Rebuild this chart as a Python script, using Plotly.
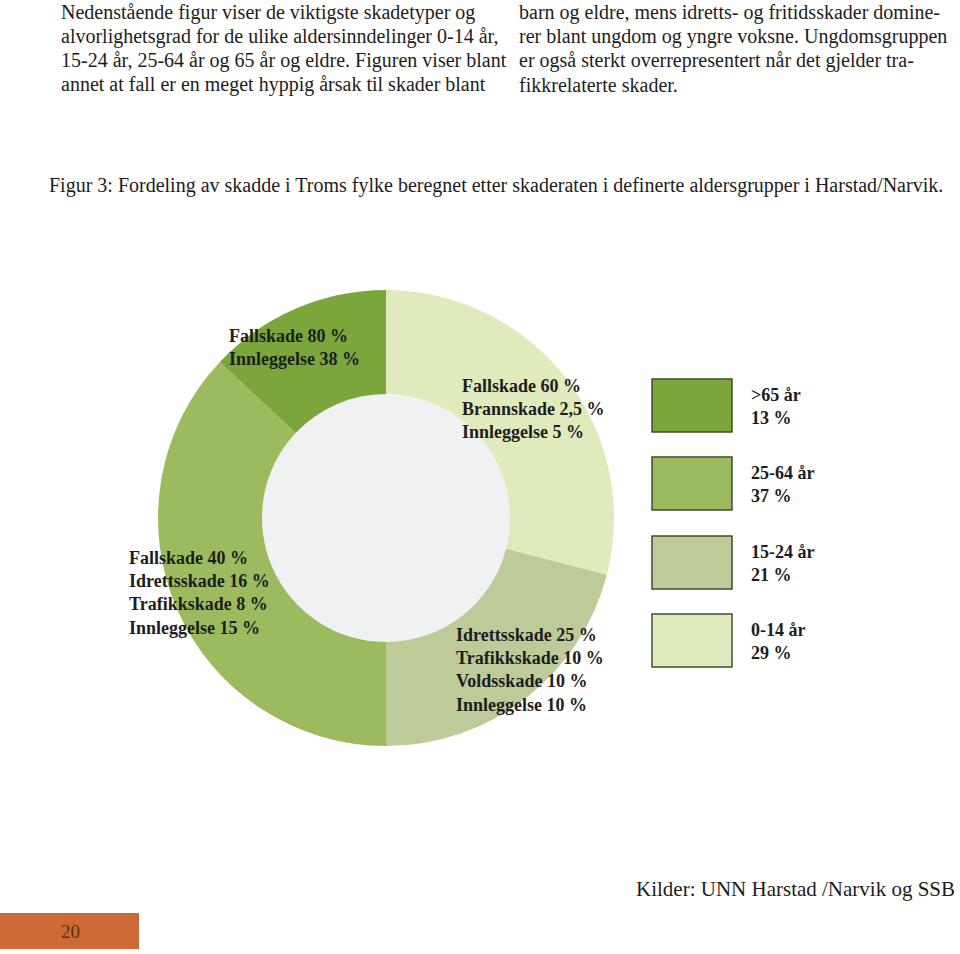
import plotly.graph_objects as go

W, H = 960, 954

# Data
age_groups = ["0-14 år", "15-24 år", "25-64 år", ">65 år"]
shares = [29, 21, 37, 13]
slice_colors = ["#e0ebbd", "#bccb98", "#9bbb5e", "#7ba63c"]

injury_notes = [
    ["Fallskade 60 %", "Brannskade 2,5 %", "Innleggelse 5 %"],
    ["Idrettsskade 25 %", "Trafikkskade 10 %", "Voldsskade 10 %", "Innleggelse 10 %"],
    ["Fallskade 40 %", "Idrettsskade 16 %", "Trafikkskade 8 %", "Innleggelse 15 %"],
    ["Fallskade 80 %", "Innleggelse 38 %"],
]
note_pos = [(461, 386), (455, 635), (128, 558), (228, 336)]  # top-left line centers (px)

legend_order = [3, 2, 1, 0]  # >65, 25-64, 15-24, 0-14

body_left = [
    "Nedenstående figur viser de viktigste skadetyper og",
    "alvorlighetsgrad for de ulike aldersinndelinger 0-14 år,",
    "15-24 år, 25-64 år og 65 år og eldre. Figuren viser blant",
    "annet at fall er en meget hyppig årsak til skader blant",
]
body_right = [
    "barn og eldre, mens idretts- og fritidsskader domine-",
    "rer blant ungdom og yngre voksne. Ungdomsgruppen",
    "er også sterkt overrepresentert når det gjelder tra-",
    "fikkrelaterte skader.",
]
caption = "Figur 3: Fordeling av skadde i Troms fylke beregnet etter skaderaten i definerte aldersgrupper i Harstad/Narvik."
source = "Kilder: UNN Harstad /Narvik og SSB"
page_no = "20"

SERIF = "Liberation Serif"
TXT = "#1e1c1c"

def px(x):
    return x / W

def py(y):
    return 1 - y / H

cx, cy, R, r_hole = 386, 518, 228, 124

fig = go.Figure()
fig.add_trace(go.Pie(
    labels=age_groups, values=shares, sort=False, direction="clockwise", rotation=0,
    hole=r_hole / R, marker=dict(colors=slice_colors, line=dict(width=0)),
    textinfo="none", hoverinfo="label+percent", showlegend=False,
    domain=dict(x=[px(cx - R), px(cx + R)], y=[py(cy + R), py(cy - R)]),
))

shapes = [
    dict(type="circle", xref="paper", yref="paper", layer="below",
         x0=px(cx - r_hole), x1=px(cx + r_hole), y0=py(cy + r_hole), y1=py(cy - r_hole),
         fillcolor="#eff1f2", line=dict(width=0)),
    dict(type="rect", xref="paper", yref="paper", x0=0, x1=px(139), y0=py(949), y1=py(913),
         fillcolor="#cd6a35", line=dict(width=0)),
]

annotations = []
box_tops = [379, 457, 536, 614]
for k, idx in enumerate(legend_order):
    t = box_tops[k]
    shapes.append(dict(type="rect", xref="paper", yref="paper",
                       x0=px(652), x1=px(732), y0=py(t + 53), y1=py(t),
                       fillcolor=slice_colors[idx], line=dict(color="#3f4d33", width=1.5)))
    for j, txt in enumerate([age_groups[idx], f"{shares[idx]} %"]):
        annotations.append(dict(x=px(749), y=py(t + 16 + 23 * j), xref="paper", yref="paper",
                                text=txt, showarrow=False, xanchor="left", yanchor="middle",
                                font=dict(family=SERIF, size=18, color=TXT, weight="bold")))

for lines, (x0, y0) in zip(injury_notes, note_pos):
    for j, txt in enumerate(lines):
        annotations.append(dict(x=px(x0 - 1), y=py(y0 + 23.2 * j), xref="paper", yref="paper",
                                text=txt, showarrow=False, xanchor="left", yanchor="middle",
                                font=dict(family=SERIF, size=18, color=TXT, weight="bold")))

for j, txt in enumerate(body_left):
    annotations.append(dict(x=px(59), y=py(13 + 24 * j), xref="paper", yref="paper",
                            text=txt, showarrow=False, xanchor="left", yanchor="middle",
                            font=dict(family=SERIF, size=20, color=TXT)))
for j, txt in enumerate(body_right):
    annotations.append(dict(x=px(517), y=py(13 + 24 * j), xref="paper", yref="paper",
                            text=txt, showarrow=False, xanchor="left", yanchor="middle",
                            font=dict(family=SERIF, size=20, color=TXT)))

annotations.append(dict(x=px(47), y=py(186), xref="paper", yref="paper", text=caption,
                        showarrow=False, xanchor="left", yanchor="middle",
                        font=dict(family=SERIF, size=20, color=TXT)))
annotations.append(dict(x=px(957), y=py(889), xref="paper", yref="paper", text=source,
                        showarrow=False, xanchor="right", yanchor="middle",
                        font=dict(family=SERIF, size=21, color=TXT)))
annotations.append(dict(x=px(70), y=py(931), xref="paper", yref="paper", text=page_no,
                        showarrow=False, xanchor="center", yanchor="middle",
                        font=dict(family=SERIF, size=19, color="#5a3412")))

fig.update_layout(
    width=W, height=H, margin=dict(l=0, r=0, t=0, b=0),
    paper_bgcolor="white", plot_bgcolor="white",
    shapes=shapes, annotations=annotations, showlegend=False,
)

fig.write_html("out.html")
